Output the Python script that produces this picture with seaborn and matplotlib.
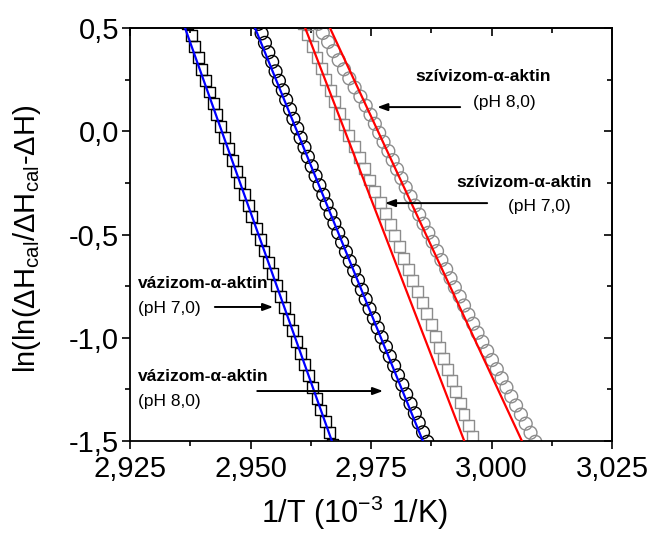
import numpy as np
import pandas as pd
import matplotlib
matplotlib.use("Agg")
import matplotlib.pyplot as plt
from matplotlib.ticker import MultipleLocator
import seaborn as sns

# ---------------- data ----------------
# vázizom-α-aktin pH 7,0 (black open squares)
vaz70_x = [2.9369, 2.9377, 2.9384, 2.9392, 2.9399, 2.9407, 2.9415, 2.9423, 2.9430, 2.9438,
           2.9446, 2.9454, 2.9462, 2.9470, 2.9478, 2.9487, 2.9495, 2.9503, 2.9512, 2.9520,
           2.9528, 2.9537, 2.9545, 2.9553, 2.9562, 2.9570, 2.9578, 2.9587, 2.9595, 2.9603,
           2.9612, 2.9620, 2.9629, 2.9638, 2.9646, 2.9655, 2.9663, 2.9671]
vaz70_y = [0.520, 0.465, 0.410, 0.355, 0.300, 0.245, 0.190, 0.135, 0.080, 0.025,
           -0.030, -0.085, -0.140, -0.195, -0.250, -0.305, -0.360, -0.415, -0.470, -0.525,
           -0.580, -0.635, -0.690, -0.745, -0.800, -0.855, -0.910, -0.965, -1.020, -1.075,
           -1.130, -1.185, -1.240, -1.295, -1.350, -1.405, -1.460, -1.515]

# vázizom-α-aktin pH 8,0 (black open circles)
vaz80_x = [2.9516, 2.9523, 2.9530, 2.9537, 2.9545, 2.9552, 2.9559, 2.9567, 2.9574, 2.9582,
           2.9589, 2.9597, 2.9604, 2.9612, 2.9619, 2.9627, 2.9635, 2.9643, 2.9651, 2.9658,
           2.9666, 2.9674, 2.9682, 2.9690, 2.9698, 2.9706, 2.9715, 2.9723, 2.9731, 2.9739,
           2.9747, 2.9756, 2.9764, 2.9772, 2.9781, 2.9789, 2.9798, 2.9806, 2.9815, 2.9823,
           2.9832, 2.9841, 2.9849, 2.9858, 2.9867]
vaz80_y = [0.520, 0.474, 0.428, 0.382, 0.336, 0.290, 0.244, 0.198, 0.152, 0.106,
           0.060, 0.014, -0.032, -0.078, -0.124, -0.170, -0.216, -0.262, -0.308, -0.354,
           -0.400, -0.446, -0.492, -0.538, -0.584, -0.630, -0.676, -0.722, -0.768, -0.814,
           -0.860, -0.906, -0.952, -0.998, -1.044, -1.090, -1.136, -1.182, -1.228, -1.274,
           -1.320, -1.366, -1.412, -1.458, -1.504]

# szívizom-α-aktin pH 7,0 (gray open squares)
sziv70_x = [2.9610, 2.9619, 2.9628, 2.9638, 2.9647, 2.9656, 2.9666, 2.9675, 2.9685, 2.9694,
            2.9704, 2.9715, 2.9726, 2.9736, 2.9747, 2.9758, 2.9769, 2.9780, 2.9790, 2.9799,
            2.9809, 2.9818, 2.9828, 2.9837, 2.9847, 2.9857, 2.9866, 2.9875, 2.9884, 2.9892,
            2.9901, 2.9909, 2.9918, 2.9926, 2.9935, 2.9943, 2.9952, 2.9960, 2.9969]
sziv70_y = [0.520, 0.466, 0.412, 0.358, 0.304, 0.250, 0.196, 0.142, 0.088, 0.034,
            -0.020, -0.074, -0.128, -0.182, -0.236, -0.290, -0.344, -0.398, -0.452, -0.506,
            -0.560, -0.614, -0.668, -0.722, -0.776, -0.830, -0.884, -0.938, -0.992, -1.046,
            -1.100, -1.154, -1.208, -1.262, -1.316, -1.370, -1.424, -1.478, -1.532]

# szívizom-α-aktin pH 8,0 (gray open circles)
sziv80_x = [2.9640, 2.9650, 2.9661, 2.9672, 2.9683, 2.9694, 2.9705, 2.9716, 2.9728, 2.9739,
            2.9749, 2.9758, 2.9767, 2.9776, 2.9786, 2.9795, 2.9804, 2.9813, 2.9822, 2.9832,
            2.9841, 2.9850, 2.9859, 2.9869, 2.9878, 2.9887, 2.9896, 2.9906, 2.9915, 2.9924,
            2.9934, 2.9943, 2.9952, 2.9962, 2.9971, 2.9981, 2.9991, 3.0001, 3.0011, 3.0021,
            3.0031, 3.0041, 3.0051, 3.0061, 3.0071, 3.0081, 3.0091]
sziv80_y = [0.520, 0.476, 0.432, 0.388, 0.344, 0.300, 0.256, 0.212, 0.168, 0.124,
            0.080, 0.036, -0.008, -0.052, -0.096, -0.140, -0.184, -0.228, -0.272, -0.316,
            -0.360, -0.404, -0.448, -0.492, -0.536, -0.580, -0.624, -0.668, -0.712, -0.756,
            -0.800, -0.844, -0.888, -0.932, -0.976, -1.020, -1.064, -1.108, -1.152, -1.196,
            -1.240, -1.284, -1.328, -1.372, -1.416, -1.460, -1.504]

# linear fits (end points)
fit_y = [0.6, -1.6]
fit_vaz70_x = [2.9349, 2.9684]
fit_vaz80_x = [2.9492, 2.9875]
fit_sziv70_x = [2.9597, 2.9960]
fit_sziv80_x = [2.9645, 3.0083]

x_ticks = [2.925, 2.950, 2.975, 3.000, 3.025]
x_tick_labels = ["2,925", "2,950", "2,975", "3,000", "3,025"]
y_ticks = [0.5, 0.0, -0.5, -1.0, -1.5]
y_tick_labels = ["0,5", "0,0", "-0,5", "-1,0", "-1,5"]

# ---------------- style ----------------
sns.set_theme(style="ticks")
plt.rcParams["font.family"] = ["Liberation Sans", "DejaVu Sans"]
plt.rcParams["mathtext.default"] = "regular"
plt.rcParams["axes.linewidth"] = 1.3
plt.rcParams["text.color"] = "black"
plt.rcParams["axes.labelcolor"] = "black"
plt.rcParams["xtick.color"] = "black"
plt.rcParams["ytick.color"] = "black"

fig = plt.figure(figsize=(6.48, 5.39), dpi=100)
ax = fig.add_axes([130 / 648, 1 - 441 / 539, 482 / 648, 413 / 539])

black = "#000000"
gray = "#8c8c8c"

sns.scatterplot(x=vaz70_x, y=vaz70_y, marker="s", s=62, facecolors="none",
                edgecolor=black, linewidth=1.0, ax=ax, zorder=2)
sns.scatterplot(x=vaz80_x, y=vaz80_y, marker="o", s=85, facecolors="none",
                edgecolor=black, linewidth=1.0, ax=ax, zorder=2)
sns.scatterplot(x=sziv70_x, y=sziv70_y, marker="s", s=62, facecolors="none",
                edgecolor=gray, linewidth=1.0, ax=ax, zorder=2)
sns.scatterplot(x=sziv80_x, y=sziv80_y, marker="o", s=85, facecolors="none",
                edgecolor=gray, linewidth=1.0, ax=ax, zorder=2)

sns.lineplot(x=fit_vaz70_x, y=fit_y, color="#0000ff", lw=1.6, sort=False, ax=ax, zorder=3)
sns.lineplot(x=fit_vaz80_x, y=fit_y, color="#0000ff", lw=1.6, sort=False, ax=ax, zorder=3)
sns.lineplot(x=fit_sziv70_x, y=fit_y, color="#ff0000", lw=1.6, sort=False, ax=ax, zorder=3)
sns.lineplot(x=fit_sziv80_x, y=fit_y, color="#ff0000", lw=1.6, sort=False, ax=ax, zorder=3)

ax.set_xlim(2.925, 3.025)
ax.set_ylim(-1.5, 0.5)

# ticks
ax.set_xticks(x_ticks)
ax.set_xticklabels(x_tick_labels)
ax.set_yticks(y_ticks)
ax.set_yticklabels(y_tick_labels)
ax.xaxis.set_minor_locator(MultipleLocator(0.0125))
ax.yaxis.set_minor_locator(MultipleLocator(0.25))
ax.tick_params(axis="both", which="major", direction="out", length=6, width=1.2,
               labelsize=21, colors="black", pad=2, top=False, right=False)
ax.tick_params(axis="x", which="major", pad=4)
ax.tick_params(axis="both", which="minor", direction="out", length=3.6, width=1.2,
               top=False, right=False)
for sp in ax.spines.values():
    sp.set_color("black")
    sp.set_linewidth(1.3)

top = ax.secondary_xaxis("top")
top.set_xticks(x_ticks)
top.xaxis.set_minor_locator(MultipleLocator(0.0125))
top.tick_params(which="major", direction="in", length=6, width=1.2, labeltop=False)
top.tick_params(which="minor", direction="in", length=3.6, width=1.2)
top.spines["top"].set_linewidth(1.3)

right = ax.secondary_yaxis("right")
right.set_yticks(y_ticks)
right.yaxis.set_minor_locator(MultipleLocator(0.25))
right.tick_params(which="major", direction="in", length=6, width=1.2, labelright=False)
right.tick_params(which="minor", direction="in", length=3.6, width=1.2)
right.spines["right"].set_linewidth(1.3)

# labels
ax.set_xlabel("1/T (10$^{-3}$ 1/K)", fontsize=22, va="center", color="black")
ax.xaxis.set_label_coords(0.465, -0.174)
ax.set_ylabel("ln(ln(ΔH$_{cal}$/ΔH$_{cal}$-ΔH)", fontsize=21, va="center", color="black")
ax.yaxis.set_label_coords(-0.214, 0.49)

# annotations
def label(xb, yb, xp, yp, name, ph):
    ax.text(xb, yb, name, fontsize=12.5, fontweight="bold", ha="left", va="center",
            color="black", zorder=5)
    ax.text(xp, yp, ph, fontsize=12.5, ha="left", va="center", color="black", zorder=5)

def arrow(x0, y0, x1, y1):
    ax.annotate("", xy=(x1, y1), xytext=(x0, y0),
                arrowprops=dict(arrowstyle="-|>,head_length=0.6,head_width=0.22",
                                color="black", lw=1.4, mutation_scale=10,
                                shrinkA=0, shrinkB=0), zorder=5)

label(2.9841, 0.263, 2.9962, 0.137, "szívizom-α-aktin", "(pH 8,0)")
arrow(2.9935, 0.117, 2.9763, 0.117)

label(2.9928, -0.246, 3.0034, -0.362, "szívizom-α-aktin", "(pH 7,0)")
arrow(2.9991, -0.348, 2.9779, -0.348)

label(2.9267, -0.735, 2.9267, -0.856, "vázizom-α-aktin", "(pH 7,0)")
arrow(2.9426, -0.851, 2.9547, -0.851)

label(2.9267, -1.190, 2.9267, -1.311, "vázizom-α-aktin", "(pH 8,0)")
arrow(2.9514, -1.258, 2.9775, -1.258)

fig.savefig("out.png", dpi=100, facecolor="white")
